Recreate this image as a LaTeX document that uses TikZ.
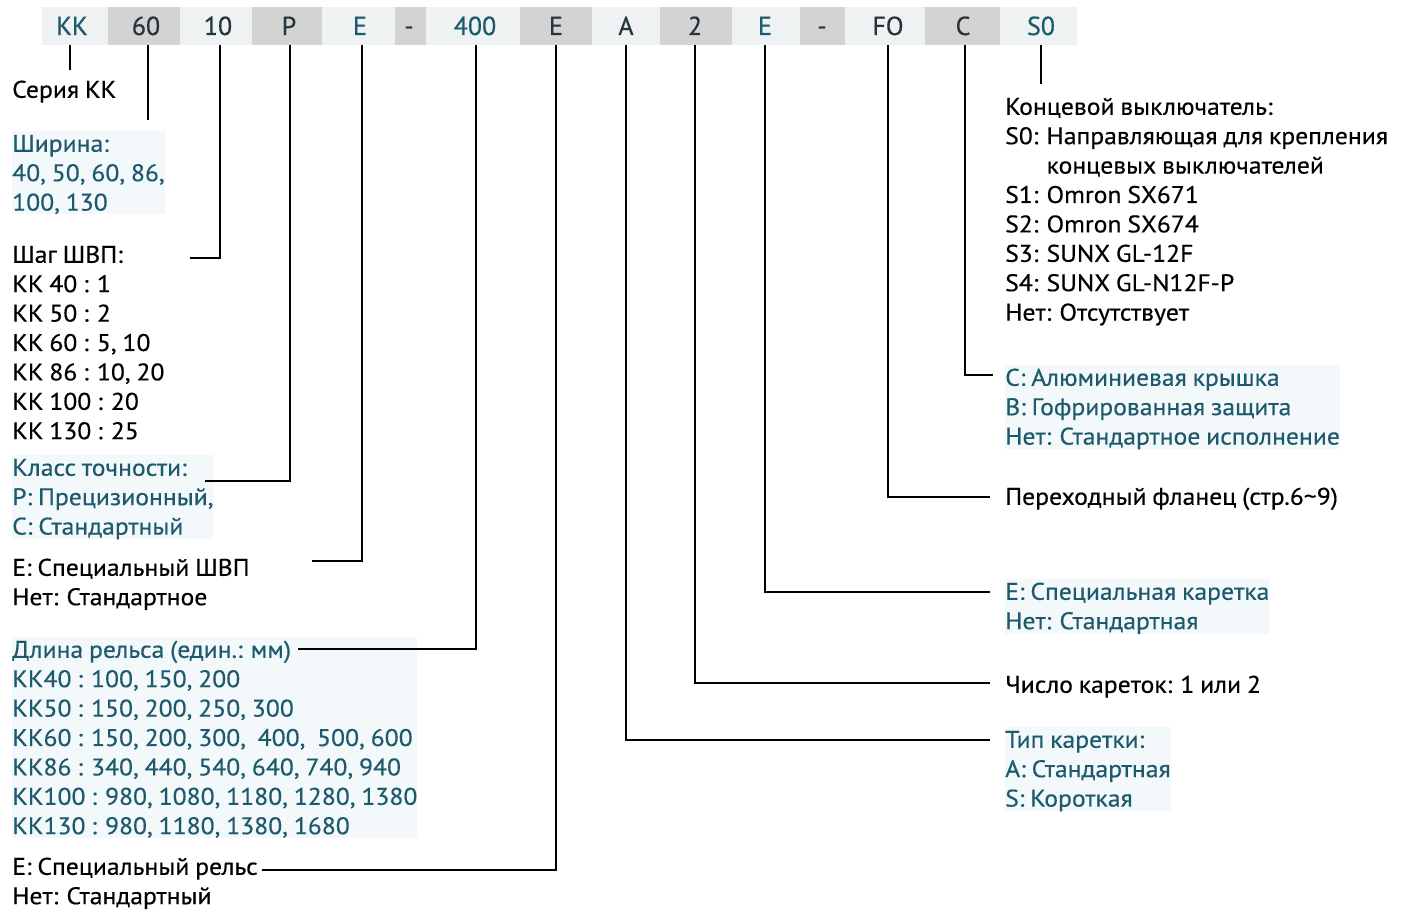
\documentclass[tikz,border=0pt]{standalone}
\usepackage{fontspec}
\setmainfont{PT Sans}[FakeStretch=1.07,FakeBold=0.4,WordSpace=0.85]
\newfontfamily\codefont{PT Sans}[FakeBold=0.6]
\definecolor{tealc}{HTML}{1D5A6E}
\definecolor{codec}{HTML}{26343C}
\definecolor{cellL}{HTML}{EFF2F3}
\definecolor{cellD}{HTML}{D3D3D3}
\definecolor{halo}{HTML}{F3F8FA}
\begin{document}
\begin{tikzpicture}[x=1pt,y=-1pt,
  cellL/.style={fill=cellL,inner sep=0pt,minimum height=38pt},
  cellD/.style={fill=cellD,inner sep=0pt,minimum height=38pt},
  code/.style={inner sep=0pt,anchor=base,font=\codefont\fontsize{26}{26}\selectfont,text=codec},
  codet/.style={code,text=tealc},
  blk/.style={anchor=north west,inner sep=0pt,align=left,font=\fontsize{24}{29.4}\selectfont},
  tblk/.style={blk,text=tealc,fill=halo},
  conn/.style={line width=1.4pt,black}]
\path[use as bounding box] (0,0) rectangle (1408,912);
% bar
\node[cellL,minimum width=1035pt,anchor=west] (bar) at (42,26) {};
\node[cellD,minimum width=72pt] (b2) at (144,26) {};
\node[cellD,minimum width=70pt] (b4) at (287,26) {};
\node[cellD,minimum width=31pt] (b6) at (410,26) {};
\node[cellD,minimum width=72pt] (b8) at (556,26) {};
\node[cellD,minimum width=72pt] (b10) at (696,26) {};
\node[cellD,minimum width=45pt] (b12) at (822,26) {};
\node[cellD,minimum width=75pt] (b14) at (962,26) {};
% codes
\node[codet] (k1) at (72,35) {KK};
\node[code] (k2) at (146,35) {60};
\node[code] (k3) at (218,35) {10};
\node[code] (k4) at (289,35) {P};
\node[codet] (k5) at (360,35) {E};
\node[code] (k6) at (409,35) {-};
\node[codet] (k7) at (475,35) {400};
\node[code] (k8) at (556,35) {E};
\node[code] (k9) at (626,35) {A};
\node[code] (k10) at (695,35) {2};
\node[codet] (k11) at (765,35) {E};
\node[code] (k12) at (822,35) {-};
\node[code] (k13) at (888,35) {FO};
\node[code] (k14) at (963,35) {C};
\node[codet] (k15) at (1041,35) {S0};
% left column
\node[blk] (t1) at (12,77) {\strut Серия KK};
\node[tblk] (t2) at (12,131) {\strut Ширина:\\40, 50, 60, 86,\\100, 130};
\node[blk] (t3) at (12,242) {\strut Шаг ШВП:\\KK 40 : 1\\KK 50 : 2\\KK 60 : 5, 10\\KK 86 : 10, 20\\KK 100 : 20\\KK 130 : 25};
\node[tblk] (t4) at (12,455) {\strut Класс точности:\\P: Прецизионный,\\C: Стандартный};
\node[blk] (t5) at (12,555) {\strut E: Специальный ШВП\\Нет: Стандартное};
\node[tblk] (t6) at (12,637) {\strut Длина рельса (един.: мм)\\KK40 : 100, 150, 200\\KK50 : 150, 200, 250, 300\\KK60 : 150, 200, 300,~ 400,~ 500, 600\\KK86 : 340, 440, 540, 640, 740, 940\\KK100 : 980, 1080, 1180, 1280, 1380\\KK130 : 980, 1180, 1380, 1680};
\node[blk] (t7) at (12,854) {\strut E: Специальный рельс\\Нет: Стандартный};
% right column
\node[blk] (r1) at (1005,94) {\strut Концевой выключатель:\\S0: Направляющая для крепления\\\phantom{S0: }концевых выключателей\\S1: Omron SX671\\S2: Omron SX674\\S3: SUNX GL-12F\\S4: SUNX GL-N12F-P\\Нет: Отсутствует};
\node[tblk] (r2) at (1005,365) {\strut C: Алюминиевая крышка\\B: Гофрированная защита\\Нет: Стандартное исполнение};
\node[blk] (r3) at (1005,484) {\strut Переходный фланец (стр.6\textasciitilde 9)};
\node[tblk] (r4) at (1005,579) {\strut E: Специальная каретка\\Нет: Стандартная};
\node[blk] (r5) at (1005,672) {\strut Число кареток: 1 или 2};
\node[tblk] (r6) at (1005,727) {\strut Тип каретки:\\A: Стандартная\\S: Короткая};
% connector ends
\coordinate (e1) at (70,70);
\coordinate (e2) at (148,120);
\coordinate (e3) at (190,258);
\coordinate (e4) at (205,481);
\coordinate (e5) at (312,561);
\coordinate (e7) at (298,649);
\coordinate (e8) at (262,870);
\coordinate (e9) at (990,740);
\coordinate (e10) at (990,683);
\coordinate (e11) at (990,592);
\coordinate (e13) at (990,497);
\coordinate (e14) at (993,375);
\coordinate (e15) at (1041,84);
% connectors
\draw[conn] (e1 |- bar.south) -- (e1);
\draw[conn] (e2 |- bar.south) -- (e2);
\draw[conn] (k3 |- bar.south) ++(2,0) |- (e3);
\draw[conn] (k4 |- bar.south) ++(1,0) |- (e4);
\draw[conn] (k5 |- bar.south) ++(2,0) |- (e5);
\draw[conn] (k7 |- bar.south) ++(1,0) |- (e7);
\draw[conn] (k8 |- bar.south) |- (e8);
\draw[conn] (k9 |- bar.south) |- (e9);
\draw[conn] (k10 |- bar.south) |- (e10);
\draw[conn] (k11 |- bar.south) |- (e11);
\draw[conn] (k13 |- bar.south) |- (e13);
\draw[conn] (k14 |- bar.south) ++(2,0) |- (e14);
\draw[conn] (e15 |- bar.south) -- (e15);
\end{tikzpicture}
\end{document}
